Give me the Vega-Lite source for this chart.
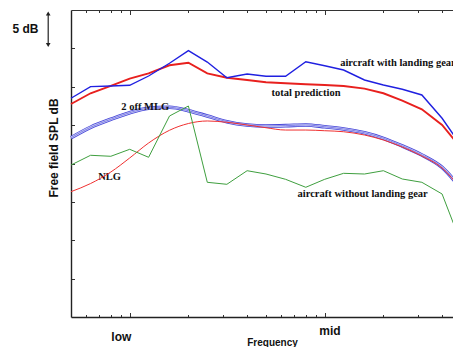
{
  "$schema": "https://vega.github.io/schema/vega-lite/v6.json",
  "width": 382,
  "height": 307,
  "autosize": {"type": "none"},
  "padding": {"left": 71, "top": 10, "right": 0, "bottom": 30},
  "background": "white",
  "config": {"view": {"stroke": null}},
  "datasets": {
    "curves": [
      {"f": 0.5, "with": 28.50, "total": 27.75, "mlg": 23.36, "nlg": 16.33, "without": 19.80},
      {"f": 0.63, "with": 30.01, "total": 29.15, "mlg": 24.72, "nlg": 17.39, "without": 21.07},
      {"f": 0.8, "with": 30.10, "total": 30.10, "mlg": 25.76, "nlg": 18.89, "without": 20.94},
      {"f": 1, "with": 30.19, "total": 31.05, "mlg": 26.62, "nlg": 20.72, "without": 21.85},
      {"f": 1.25, "with": 31.40, "total": 31.75, "mlg": 27.19, "nlg": 22.67, "without": 20.81},
      {"f": 1.6, "with": 33.06, "total": 32.80, "mlg": 27.32, "nlg": 24.33, "without": 26.19},
      {"f": 2, "with": 34.70, "total": 33.13, "mlg": 26.88, "nlg": 25.21, "without": 27.49},
      {"f": 2.5, "with": 33.22, "total": 31.75, "mlg": 26.19, "nlg": 25.54, "without": 17.55},
      {"f": 3.15, "with": 31.18, "total": 31.18, "mlg": 25.45, "nlg": 25.37, "without": 17.29},
      {"f": 4, "with": 31.66, "total": 30.88, "mlg": 25.02, "nlg": 25.02, "without": 19.06},
      {"f": 5, "with": 31.36, "total": 30.58, "mlg": 24.89, "nlg": 24.66, "without": 18.63},
      {"f": 6.3, "with": 31.36, "total": 30.45, "mlg": 24.93, "nlg": 24.36, "without": 17.94},
      {"f": 8, "with": 33.26, "total": 30.32, "mlg": 25.02, "nlg": 24.36, "without": 16.90},
      {"f": 10, "with": 32.74, "total": 30.23, "mlg": 24.79, "nlg": 24.27, "without": 17.94},
      {"f": 12.5, "with": 32.18, "total": 30.10, "mlg": 24.50, "nlg": 24.14, "without": 18.72},
      {"f": 16, "with": 30.88, "total": 29.75, "mlg": 24.01, "nlg": 23.71, "without": 18.63},
      {"f": 20, "with": 30.23, "total": 29.15, "mlg": 23.28, "nlg": 23.06, "without": 19.06},
      {"f": 25, "with": 29.67, "total": 28.18, "mlg": 22.28, "nlg": 22.15, "without": 17.98},
      {"f": 31.5, "with": 28.93, "total": 27.06, "mlg": 21.11, "nlg": 20.98, "without": 17.55},
      {"f": 40, "with": 25.89, "total": 25.02, "mlg": 19.50, "nlg": 19.41, "without": 16.03},
      {"f": 50, "with": 22.33, "total": 22.02, "mlg": 16.73, "nlg": 16.68, "without": 9.64}
    ],
    "notes": [
      {"t": "aircraft with landing gear", "f": 12.0, "v": 33.13},
      {"t": "total prediction", "f": 5.34, "v": 29.15},
      {"t": "2 off MLG", "f": 0.906, "v": 27.40},
      {"t": "NLG", "f": 0.690, "v": 18.18},
      {"t": "aircraft without landing gear", "f": 7.26, "v": 15.99}
    ],
    "words": [
      {"t": "low", "f": 0.906, "v": -2.57},
      {"t": "mid", "f": 10.65, "v": -1.82}
    ],
    "scalebar": [
      {"t": "5 dB", "f": 0.292, "v": 37.5, "ax": 0.382, "lo": 35.45, "hi": 39.55}
    ]
  },
  "layer": [
    {
      "data": {"name": "words"},
      "mark": {"type": "text", "align": "center", "baseline": "middle", "font": "Liberation Sans", "fontWeight": "bold", "fontSize": 12, "color": "#111111"},
      "encoding": {
        "x": {"field": "f", "type": "quantitative", "scale": {"type": "log", "domain": [0.5, 45.5], "nice": false},
          "axis": {"orient": "bottom", "values": [0.6, 0.7, 0.8, 0.9, 1, 2, 3, 4, 5, 6, 7, 8, 9, 10, 20, 30, 40], "labels": false, "grid": false,
            "tickSize": {"condition": {"test": "datum.value == 1 || datum.value == 10", "value": -4.5}, "value": -2.5},
            "tickColor": "#333333", "tickWidth": 1, "domainColor": "#222222", "domainWidth": 1.4,
            "title": "Frequency", "titleFont": "Liberation Sans", "titleFontSize": 10, "titleFontWeight": "bold", "titleColor": "#111111",
            "titleX": 201, "titleY": 25, "titleBaseline": "middle", "titleAlign": "center"}},
        "y": {"field": "v", "type": "quantitative", "scale": {"domain": [0, 40], "nice": false, "zero": false},
          "axis": {"orient": "left", "values": [5, 10, 15, 20, 25, 30, 35], "labels": false, "grid": false, "tickSize": -3.5,
            "tickColor": "#333333", "domainColor": "#222222", "domainWidth": 1.4,
            "title": "Free field SPL dB", "titleFont": "Liberation Sans", "titleFontSize": 12, "titleFontWeight": "bold", "titleColor": "#111111",
            "titleX": -18, "titleY": 137.5, "titleAngle": 270, "titleBaseline": "middle", "titleAlign": "center"}},
        "text": {"field": "t"}
      }
    },
    {
      "data": {"name": "scalebar"},
      "mark": {"type": "text", "align": "center", "baseline": "middle", "font": "Liberation Sans", "fontWeight": "bold", "fontSize": 12, "color": "#111111"},
      "encoding": {
        "x": {"field": "f", "type": "quantitative", "scale": {"type": "log", "domain": [0.5, 45.5], "nice": false},
          "axis": {"orient": "top", "values": [0.6, 0.7, 0.8, 0.9, 1, 2, 3, 4, 5, 6, 7, 8, 9, 10, 20, 30, 40], "labels": false, "grid": false,
            "tickSize": {"condition": {"test": "datum.value == 1 || datum.value == 10", "value": -4.5}, "value": -2.5},
            "tickColor": "#333333", "tickWidth": 1, "domainColor": "#333333", "domainWidth": 1.2, "title": null}},
        "y": {"field": "v", "type": "quantitative", "axis": null},
        "text": {"field": "t"}
      }
    },
    {
      "data": {"name": "scalebar"},
      "mark": {"type": "rule", "color": "#222222", "strokeWidth": 1.2},
      "encoding": {
        "x": {"field": "ax", "type": "quantitative", "axis": null},
        "y": {"field": "lo", "type": "quantitative", "axis": null},
        "y2": {"field": "hi"}
      }
    },
    {
      "data": {"name": "scalebar"},
      "mark": {"type": "point", "shape": "triangle-up", "filled": true, "color": "#222222", "size": 22, "opacity": 1},
      "encoding": {
        "x": {"field": "ax", "type": "quantitative", "axis": null},
        "y": {"field": "hi", "type": "quantitative", "axis": null}
      }
    },
    {
      "data": {"name": "scalebar"},
      "mark": {"type": "point", "shape": "triangle-down", "filled": true, "color": "#222222", "size": 22, "opacity": 1},
      "encoding": {
        "x": {"field": "ax", "type": "quantitative", "axis": null},
        "y": {"field": "lo", "type": "quantitative", "axis": null}
      }
    },
    {
      "data": {"name": "curves"},
      "mark": {"type": "line", "color": "#4646d8", "strokeWidth": 3.6, "interpolate": "monotone"},
      "encoding": {
        "x": {"field": "f", "type": "quantitative", "axis": null},
        "y": {"field": "mlg", "type": "quantitative", "axis": null}
      }
    },
    {
      "data": {"name": "curves"},
      "mark": {"type": "line", "color": "#d0d2f6", "strokeWidth": 2.0, "interpolate": "monotone"},
      "encoding": {
        "x": {"field": "f", "type": "quantitative", "axis": null},
        "y": {"field": "mlg", "type": "quantitative", "axis": null}
      }
    },
    {
      "data": {"name": "curves"},
      "mark": {"type": "line", "color": "#6060e0", "strokeWidth": 0.7, "interpolate": "monotone"},
      "encoding": {
        "x": {"field": "f", "type": "quantitative", "axis": null},
        "y": {"field": "mlg", "type": "quantitative", "axis": null}
      }
    },
    {
      "data": {"name": "notes"},
      "mark": {"type": "text", "align": "left", "baseline": "middle", "font": "Liberation Serif", "fontWeight": "bold", "fontSize": 10.5, "color": "#111111"},
      "encoding": {
        "x": {"field": "f", "type": "quantitative", "axis": null},
        "y": {"field": "v", "type": "quantitative", "axis": null},
        "text": {"field": "t"}
      }
    },
    {
      "data": {"name": "curves"},
      "mark": {"type": "line", "color": "#f03030", "strokeWidth": 1, "interpolate": "monotone"},
      "encoding": {
        "x": {"field": "f", "type": "quantitative", "axis": null},
        "y": {"field": "nlg", "type": "quantitative", "axis": null}
      }
    },
    {
      "data": {"name": "curves"},
      "mark": {"type": "line", "color": "#e8201e", "strokeWidth": 1.9},
      "encoding": {
        "x": {"field": "f", "type": "quantitative", "axis": null},
        "y": {"field": "total", "type": "quantitative", "axis": null}
      }
    },
    {
      "data": {"name": "curves"},
      "mark": {"type": "line", "color": "#2020e0", "strokeWidth": 1.4},
      "encoding": {
        "x": {"field": "f", "type": "quantitative", "axis": null},
        "y": {"field": "with", "type": "quantitative", "axis": null}
      }
    },
    {
      "data": {"name": "curves"},
      "mark": {"type": "line", "color": "#3f9f3f", "strokeWidth": 1},
      "encoding": {
        "x": {"field": "f", "type": "quantitative", "axis": null},
        "y": {"field": "without", "type": "quantitative", "axis": null}
      }
    }
  ],
  "resolve": {"axis": {"x": "independent", "y": "independent"}}
}
